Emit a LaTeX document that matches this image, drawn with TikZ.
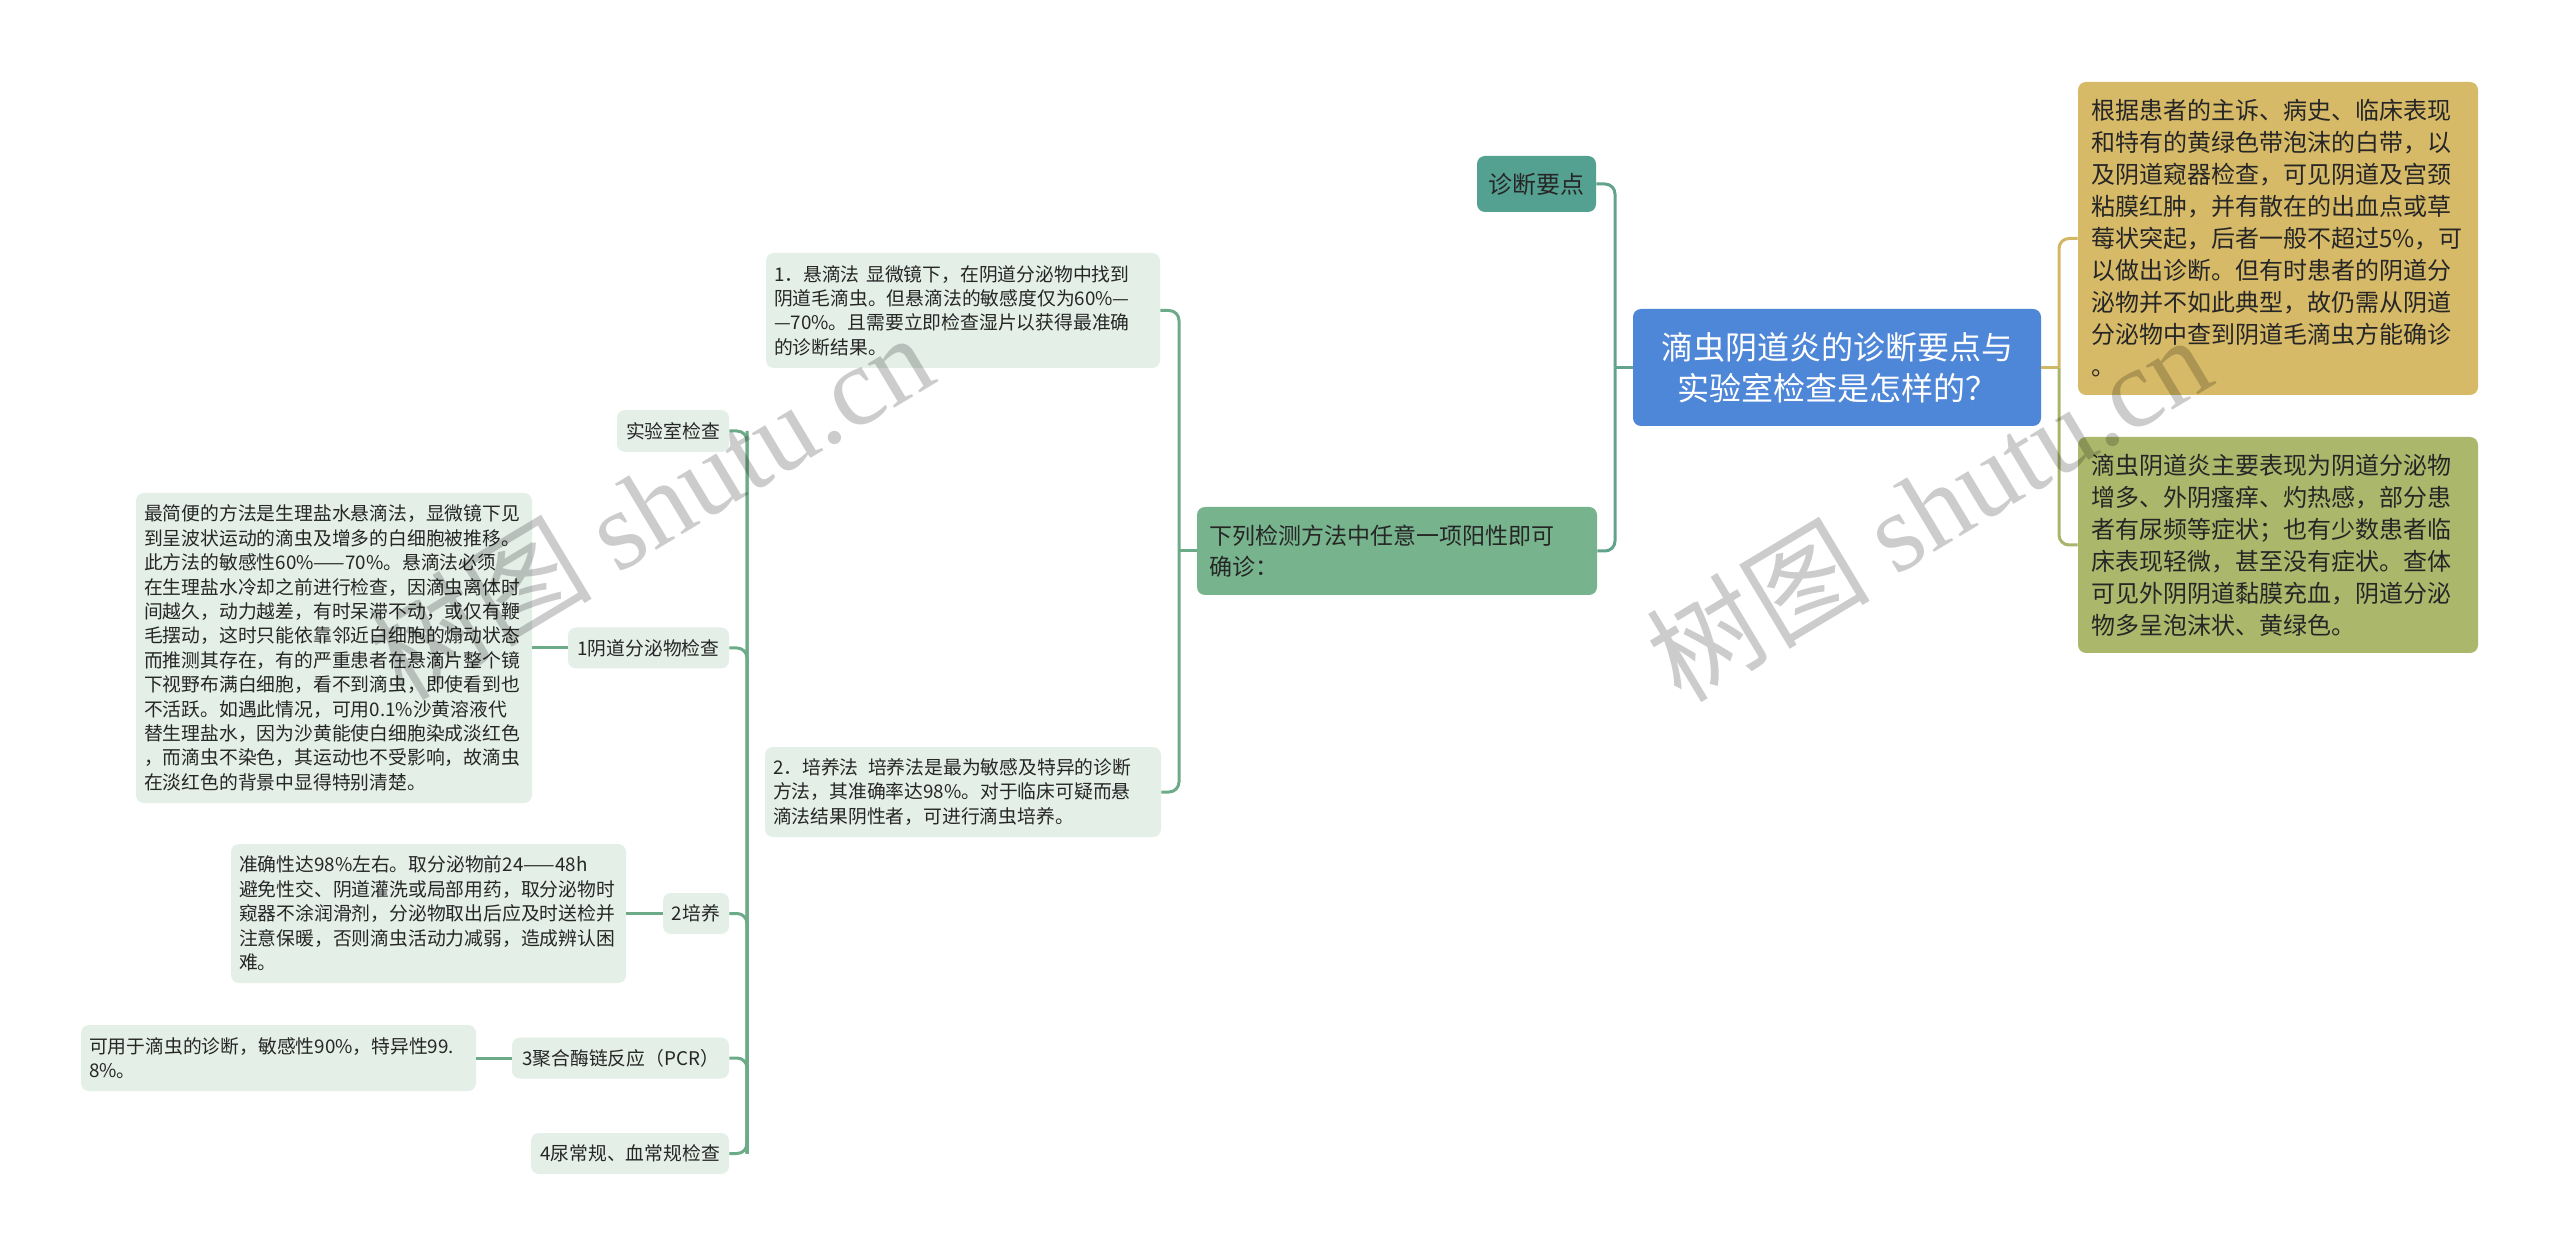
\documentclass[tikz,border=0pt]{standalone}
\usepackage{fontspec}
\setmainfont{Noto Sans CJK SC}
\newfontfamily\wmlatin{Liberation Serif}
\definecolor{cRoot}{HTML}{4E86D8}
\definecolor{cDiag}{HTML}{55A191}
\definecolor{cNext}{HTML}{77B38D}
\definecolor{cLight}{HTML}{E4EFE8}
\definecolor{cYel}{HTML}{D7BA67}
\definecolor{cOli}{HTML}{ABB86B}
\definecolor{cText}{HTML}{262626}
\definecolor{cLineG}{HTML}{6DAA88}
\definecolor{cLineT}{HTML}{63A38C}
\definecolor{cLineY}{HTML}{D1B866}
\definecolor{cLineO}{HTML}{A9B56A}
\tikzset{
  box/.style={rounded corners=4pt, inner ysep=0pt, anchor=center, text=cText},
  lt/.style={box, fill=cLight, font=\fontsize{9.4pt}{12.2pt}\selectfont},
  ltp/.style={lt, align=left, inner xsep=4pt},
  lts/.style={lt, align=center, inner xsep=0pt},
  bigtxt/.style={box, fill=#1, align=left, inner xsep=6.5pt, text width=187pt,
     font=\fontsize{12pt}{16pt}\selectfont},
  conn/.style={line width=1.5pt, rounded corners=5pt},
  wm/.style={text=black, text opacity=0.2, rotate=31, inner sep=0pt}
}
\begin{document}
\begin{tikzpicture}[x=0.5pt,y=-0.5pt]
\useasboundingbox[fill=white] (0,0) rectangle (2560,1256);

% centre
\node[box, fill=cRoot, text=white, align=center, minimum width=204pt, minimum height=58.5pt,
  font=\fontsize{16pt}{20.5pt}\selectfont] (root) at (1837,367.5)
  {滴虫阴道炎的诊断要点与\\实验室检查是怎样的？};

% right side
\node[bigtxt=cYel, minimum height=156.5pt] (yel) at (2278,238.5)
  {根据患者的主诉、病史、临床表现\\和特有的黄绿色带泡沫的白带，以\\及阴道窥器检查，可见阴道及宫颈\\粘膜红肿，并有散在的出血点或草\\莓状突起，后者一般不超过5\%，可\\以做出诊断。但有时患者的阴道分\\泌物并不如此典型，故仍需从阴道\\分泌物中查到阴道毛滴虫方能确诊\\。};
\node[bigtxt=cOli, minimum height=108pt] (oli) at (2278,545)
  {滴虫阴道炎主要表现为阴道分泌物\\增多、外阴瘙痒、灼热感，部分患\\者有尿频等症状；也有少数患者临\\床表现轻微，甚至没有症状。查体\\可见外阴阴道黏膜充血，阴道分泌\\物多呈泡沫状、黄绿色。};

% left of centre
\node[box, fill=cDiag, align=center, minimum width=59.5pt, minimum height=28pt, inner xsep=0pt,
  font=\fontsize{12pt}{14pt}\selectfont] (diag) at (1536.5,184) {诊断要点};
\node[box, fill=cNext, align=left, inner xsep=6pt, text width=188pt, minimum height=44pt,
  font=\fontsize{11.5pt}{15.5pt}\selectfont] (next) at (1397,551)
  {下列检测方法中任意一项阳性即可\\确诊：};

\node[ltp, text width=189pt, minimum height=57.5pt] (m1) at (963,310.5)
  {1．悬滴法\nobreak\hspace{0.35em}显微镜下，在阴道分泌物中找到\\阴道毛滴虫。但悬滴法的敏感度仅为60\%—\\—70\%。且需要立即检查湿片以获得最准确\\的诊断结果。};
\node[ltp, text width=190pt, minimum height=45pt] (m2) at (963,792)
  {2．培养法\nobreak\hspace{0.5em}培养法是最为敏感及特异的诊断\\方法，其准确率达98\%。对于临床可疑而悬\\滴法结果阴性者，可进行滴虫培养。};

% laboratory group
\node[lts, minimum width=56pt, minimum height=21pt] (lab) at (673,431) {实验室检查};
\node[lts, minimum width=80.5pt, minimum height=20.5pt] (u1) at (648.5,648) {1阴道分泌物检查};
\node[lts, minimum width=33pt, minimum height=20.5pt] (u2) at (696,913.5) {2培养};
\node[lts, minimum width=108.5pt, minimum height=20.5pt] (u3) at (620.5,1058) {3聚合酶链反应（PCR）};
\node[lts, minimum width=99pt, minimum height=20.5pt] (u4) at (630,1153.5) {4尿常规、血常规检查};

\node[ltp, text width=190pt, minimum height=155pt] (big) at (334,648)
  {最简便的方法是生理盐水悬滴法，显微镜下见\\到呈波状运动的滴虫及增多的白细胞被推移。\\此方法的敏感性60\%——70\%。悬滴法必须\\在生理盐水冷却之前进行检查，因滴虫离体时\\间越久，动力越差，有时呆滞不动，或仅有鞭\\毛摆动，这时只能依靠邻近白细胞的煽动状态\\而推测其存在，有的严重患者在悬滴片整个镜\\下视野布满白细胞，看不到滴虫，即使看到也\\不活跃。如遇此情况，可用0.1\%沙黄溶液代\\替生理盐水，因为沙黄能使白细胞染成淡红色\\，而滴虫不染色，其运动也不受影响，故滴虫\\在淡红色的背景中显得特别清楚。};
\node[ltp, text width=189.5pt, minimum height=69.5pt] (acc) at (428.5,913.5)
  {准确性达98\%左右。取分泌物前24——48h\\避免性交、阴道灌洗或局部用药，取分泌物时\\窥器不涂润滑剂，分泌物取出后应及时送检并\\注意保暖，否则滴虫活动力减弱，造成辨认困\\难。};
\node[ltp, text width=189.5pt, minimum height=33pt] (pcr) at (278.5,1058)
  {可用于滴虫的诊断，敏感性90\%，特异性99.\\8\%。};

% junctions
\coordinate (jL) at (1615,367.5);
\coordinate (jR) at (2059,367.5);
\coordinate (jM) at (1179,551);
\coordinate (sTop) at (747,431);
\coordinate (sBot) at (747,1153.5);

% connectors
\draw[conn, cLineT] (root.west) -- (jL);
\draw[conn, cLineT] (diag.east) -| (jL);
\draw[conn, cLineT] (next.east) -| (jL);

\draw[conn, cLineY] (root.east) -- (jR);
\draw[conn, cLineY] (yel.west) -| (jR);
\draw[conn, cLineO] (oli.west) -| (jR);

\draw[conn, cLineG] (next.west) -- (jM);
\draw[conn, cLineG] (m1.east) -| (jM);
\draw[conn, cLineG] (m2.east) -| (jM);

\draw[conn, cLineG] (lab.east) -| (sBot);
\draw[conn, cLineG] (u1.east) -| (sBot);
\draw[conn, cLineG] (u2.east) -| (sBot);
\draw[conn, cLineG] (u3.east) -| (sBot);
\draw[conn, cLineG] (u4.east) -| (sTop);

\draw[conn, cLineG] (big.east) -- (u1.west);
\draw[conn, cLineG] (acc.east) -- (u2.west);
\draw[conn, cLineG] (pcr.east) -- (u3.west);

% watermarks
\node[wm, font=\fontsize{56pt}{56pt}\selectfont] (wmA) at (650,505) {树图 {\wmlatin shutu.cn}};
\node[wm, font=\fontsize{56pt}{56pt}\selectfont] (wmB) at (1928,507) {树图 {\wmlatin shutu.cn}};
\end{tikzpicture}
\end{document}
